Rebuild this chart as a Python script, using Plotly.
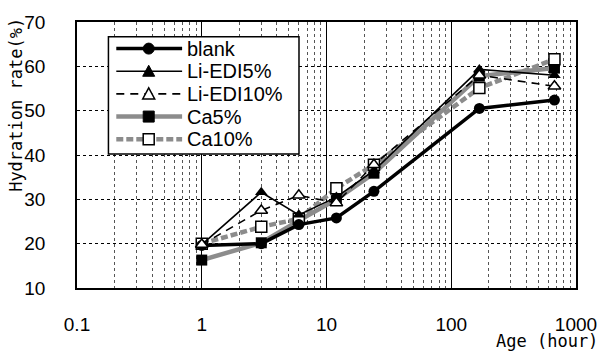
import plotly.graph_objects as go

age = [1, 3, 6, 12, 24, 168, 672]
blank = [19.6, 20.0, 24.3, 25.8, 31.8, 50.5, 52.4]
li5 = [19.8, 31.6, 26.5, 30.5, 36.5, 59.3, 58.0]
li10 = [19.8, 27.5, 30.9, 29.2, 37.8, 58.0, 55.5]
ca5 = [16.3, 20.2, 25.2, 30.0, 35.9, 57.8, 59.6]
ca10 = [20.0, 23.8, 25.6, 32.5, 37.8, 55.1, 61.6]

names = ["blank", "Li-EDI5%", "Li-EDI10%", "Ca5%", "Ca10%"]
xticks = [0.1, 1, 10, 100, 1000]
xticktext = ["0.1", "1", "10", "100", "1000"]
yticks = [10, 20, 30, 40, 50, 60, 70]
minor_x = [m * 10 ** e for e in range(-1, 3) for m in range(2, 10)]

# figure geometry (pixels)
W, H = 609, 352
L, R, T, B = 77, 24, 18, 64
PW, PH = W - L - R, H - T - B


def px(x):
    return (x - L) / PW


def py(y):
    return (H - B - y) / PH


GRAY = "#8c8c8c"
styles = {
    "blank": dict(line=dict(color="black", width=3.5),
                  marker=dict(symbol="circle", size=11, color="black")),
    "Li-EDI5%": dict(line=dict(color="black", width=1.6),
                     marker=dict(symbol="triangle-up", size=11, color="black")),
    "Li-EDI10%": dict(line=dict(color="black", width=1.6, dash="8px,6px"),
                      marker=dict(symbol="triangle-up", size=11, color="white",
                                  line=dict(color="black", width=1.5))),
    "Ca5%": dict(line=dict(color=GRAY, width=4.5),
                 marker=dict(symbol="square", size=11, color="black")),
    "Ca10%": dict(line=dict(color=GRAY, width=4.5, dash="7px,3px"),
                  marker=dict(symbol="square", size=11, color="white",
                              line=dict(color="black", width=1.5))),
}
series = {"blank": blank, "Li-EDI5%": li5, "Li-EDI10%": li10,
          "Ca5%": ca5, "Ca10%": ca10}

fig = go.Figure()
for n in ["Ca5%", "Ca10%", "blank", "Li-EDI5%", "Li-EDI10%"]:
    fig.add_trace(go.Scatter(x=age, y=series[n], name=n, mode="lines+markers",
                             showlegend=False, **styles[n]))

fig.update_layout(
    width=W, height=H,
    margin=dict(l=L, r=R, t=T, b=B),
    paper_bgcolor="white", plot_bgcolor="white",
    font=dict(family="Arial, Liberation Sans, sans-serif", size=19, color="black"),
    showlegend=False,
    xaxis=dict(type="log", range=[-1, 3], tickvals=xticks, ticktext=xticktext,
               showgrid=True, gridcolor="black", gridwidth=1,
               minor=dict(tickvals=minor_x, showgrid=True, gridcolor="#555",
                          griddash="dot", gridwidth=1, ticks=""),
               showline=True, mirror=True, linecolor="black", linewidth=1.5,
               ticks="", ticklabelstandoff=18, zeroline=False,
               tickfont=dict(size=19)),
    yaxis=dict(range=[10, 70], tickvals=yticks,
               showgrid=True, gridcolor="black", griddash="dot", gridwidth=1.2,
               showline=True, mirror=True, linecolor="black", linewidth=1.5,
               ticks="", ticklabelstandoff=26, zeroline=False,
               tickfont=dict(size=19)),
)

# ---- hand-drawn legend box (pixel layout) ----
shapes = []
shapes.append(dict(type="rect", xref="paper", yref="paper",
                   x0=px(109), x1=px(303), y0=py(152), y1=py(33),
                   fillcolor="white", line=dict(color="black", width=1.5),
                   layer="above"))
rows = [45, 68, 91, 114, 137]
for n, ry in zip(names, rows):
    st = styles[n]
    shapes.append(dict(type="line", xref="paper", yref="paper",
                       x0=px(117), x1=px(184), y0=py(ry), y1=py(ry),
                       line=st["line"], layer="above"))
    mk = st["marker"]
    mline = mk.get("line", dict(color="black", width=1))
    ax, ay = px(150), py(ry)
    common = dict(xref="paper", yref="paper", xsizemode="pixel",
                  ysizemode="pixel", xanchor=ax, yanchor=ay,
                  fillcolor=mk["color"], line=mline, layer="above")
    if mk["symbol"] == "circle":
        shapes.append(dict(type="circle", x0=-5.5, x1=5.5, y0=-5.5, y1=5.5,
                           **common))
    elif mk["symbol"] == "square":
        shapes.append(dict(type="rect", x0=-5.5, x1=5.5, y0=-5.5, y1=5.5,
                           **common))
    else:
        shapes.append(dict(type="path", path="M-6,-5 L6,-5 L0,6 Z", **common))
    fig.add_annotation(text=n, xref="paper", yref="paper", x=px(187), y=ay,
                       xanchor="left", yanchor="middle", showarrow=False,
                       font=dict(size=20))
fig.update_layout(shapes=shapes)

fig.add_annotation(text="Hydration rate(%)", xref="paper", yref="paper",
                   x=px(15), y=py(102), xanchor="center", yanchor="middle",
                   textangle=-90, showarrow=False,
                   font=dict(family="DejaVu Sans Mono", size=17))
fig.add_annotation(text="Age (hour)", xref="paper", yref="paper",
                   x=px(609), y=py(342), xanchor="right", yanchor="middle",
                   showarrow=False,
                   font=dict(family="DejaVu Sans Mono", size=17))

fig.write_html("out.html")
